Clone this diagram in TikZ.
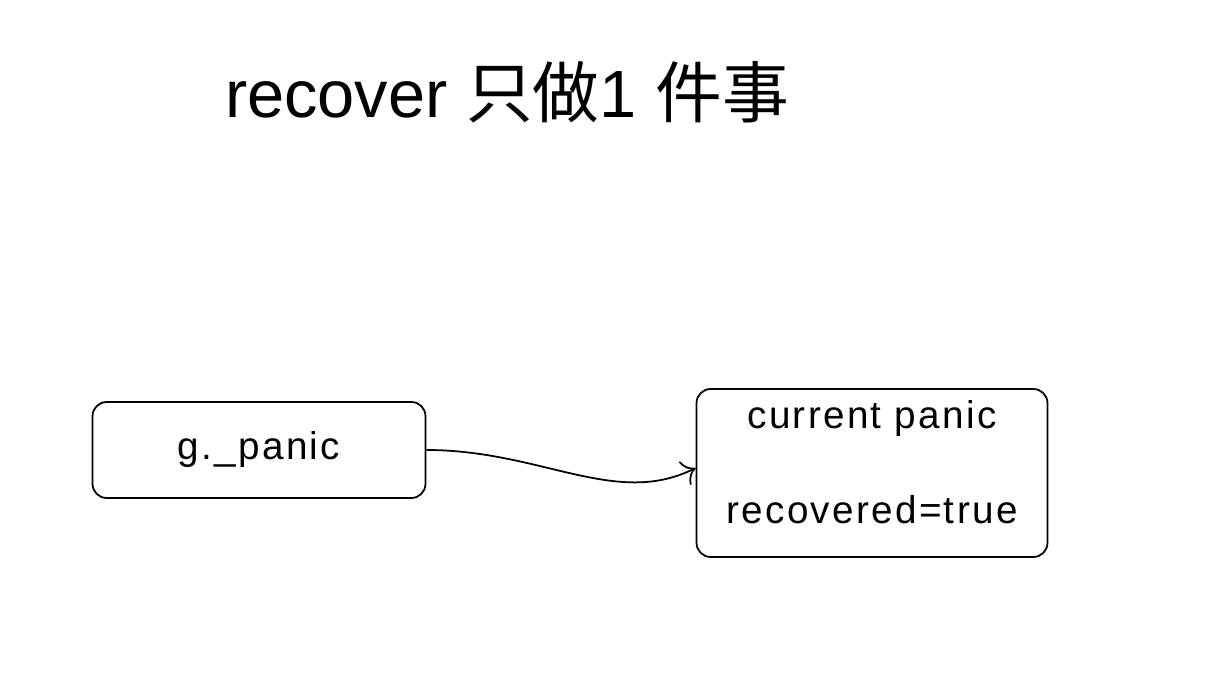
\documentclass[tikz,border=0pt]{standalone}
\usepackage{fontspec}
\setmainfont{Liberation Sans}
\newfontfamily\cjk{Noto Sans CJK SC}
\newfontfamily\spaced[LetterSpace=6]{Liberation Sans}
\usetikzlibrary{positioning,arrows.meta}

\begin{document}
\begin{tikzpicture}[
    x=0.02cm, y=-0.02cm,
    box/.style={draw, rounded corners=8pt, line width=1pt, align=center},
    title/.style={font=\fontsize{38}{44}\selectfont},
    boxtext/.style={font=\spaced\fontsize{22}{26}\selectfont},
    arrow/.style={-{To[length=2.5mm]}, line width=1pt}
]
\useasboundingbox (0,0) rectangle (1210,678);

% Title
\node[title] (heading) at (507,92) {recover {\cjk 只做}1 {\cjk 件事}};

% Boxes
\node[box, boxtext, minimum width=6.66cm, minimum height=1.92cm] (gpanic) at (259,450) {g.\_panic};
\node[box, boxtext, minimum width=7.02cm, minimum height=3.36cm] (cur) at (872,473) {current panic\\[1.0cm]recovered=true\\[-0.48cm]};

% Arrow
\draw[arrow] (gpanic.east) .. controls ([xshift=2.3cm]gpanic.east) and ([xshift=-1.6cm,yshift=-0.7cm]cur.west) .. ([yshift=0.1cm]cur.west);

\end{tikzpicture}
\end{document}
